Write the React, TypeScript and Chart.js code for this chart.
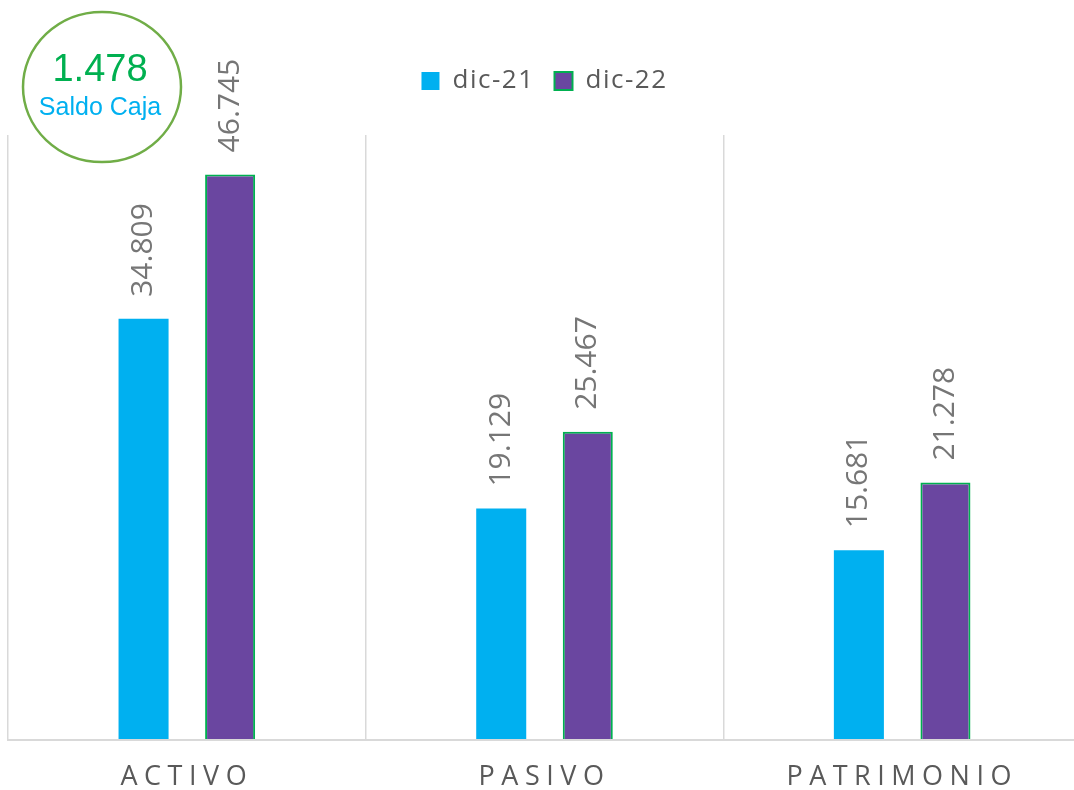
import { useEffect, useRef } from 'react';
import { Chart, registerables } from 'chart.js';

Chart.register(...registerables);

const categories = ['ACTIVO', 'PASIVO', 'PATRIMONIO'];
const seriesLabels = ['dic-21', 'dic-22'];
const dic21Values = [34809, 19129, 15681];
const dic22Values = [46745, 25467, 21278];
const saldoCajaValue = 1478;
const saldoCajaLabel = 'Saldo Caja';

const fmt = (v: number) => String(v).replace(/\B(?=(\d{3})+(?!\d))/g, '.');

const FONT = "'Open Sans', sans-serif";

const decorPlugin = {
  id: 'decor',
  beforeLayout(chart: any) {
    chart.ctx.letterSpacing = '1.5px';
  },
  beforeDraw(chart: any) {
    chart.ctx.letterSpacing = '1.5px';
  },
  afterDatasetsDraw(chart: any) {
    const ctx = chart.ctx;
    ctx.save();
    ctx.letterSpacing = '0px';
    ctx.fillStyle = '#767676';
    ctx.font = `400 30px ${FONT}`;
    ctx.textAlign = 'left';
    ctx.textBaseline = 'middle';
    chart.data.datasets.forEach((ds: any, di: number) => {
      const meta = chart.getDatasetMeta(di);
      meta.data.forEach((el: any, i: number) => {
        ctx.save();
        ctx.translate(el.x, el.y - 22);
        ctx.rotate(-Math.PI / 2);
        ctx.fillText(fmt(ds.data[i]), 0, 0);
        ctx.restore();
      });
    });
    ctx.restore();
    ctx.letterSpacing = '6.5px';
  },
  afterDraw(chart: any) {
    const ctx = chart.ctx;
    ctx.save();
    ctx.letterSpacing = '0px';
    ctx.beginPath();
    ctx.ellipse(102, 87, 79, 75, 0, 0, Math.PI * 2);
    ctx.strokeStyle = '#70AD47';
    ctx.lineWidth = 2.5;
    ctx.stroke();
    ctx.textAlign = 'center';
    ctx.textBaseline = 'alphabetic';
    ctx.fillStyle = '#00B050';
    ctx.font = "38px 'Liberation Sans', Arial, sans-serif";
    ctx.fillText(fmt(saldoCajaValue), 100, 81);
    ctx.fillStyle = '#00B0F0';
    ctx.font = "25px 'Liberation Sans', Arial, sans-serif";
    ctx.fillText(saldoCajaLabel, 100, 115);
    ctx.restore();
  },
};

export default function App() {
  const ref = useRef<HTMLCanvasElement | null>(null);

  useEffect(() => {
    if (!ref.current) return;
    const chart = new Chart(ref.current, {
      type: 'bar',
      data: {
        labels: categories,
        datasets: [
          {
            label: seriesLabels[0],
            data: dic21Values,
            backgroundColor: '#00B0F0',
            borderWidth: 0,
            categoryPercentage: 0.484,
            barPercentage: 0.578,
          },
          {
            label: seriesLabels[1],
            data: dic22Values,
            backgroundColor: '#6A46A0',
            borderColor: '#00B050',
            borderWidth: 2,
            borderSkipped: 'bottom',
            categoryPercentage: 0.484,
            barPercentage: 0.578,
          },
        ],
      },
      options: {
        responsive: false,
        animation: false,
        layout: { padding: { top: 48, left: 8, right: 1, bottom: -24 } },
        plugins: {
          tooltip: { enabled: false },
          title: { display: false },
          subtitle: {
            display: true,
            text: '',
            weight: 500,
            font: { size: 10, lineHeight: 1 },
            padding: { top: 0, bottom: 21 },
          } as any,
          legend: {
            display: true,
            position: 'top',
            labels: {
              boxWidth: 18,
              boxHeight: 18,
              padding: 20,
              color: '#595959',
              font: { family: FONT, size: 26 },
            },
          },
        },
        scales: {
          x: {
            grid: {
              display: true,
              color: '#d9d9d9',
              lineWidth: 1.5,
              drawTicks: false,
              offset: true,
            },
            border: { display: true, color: '#d9d9d9', width: 2, z: 1 } as any,
            ticks: {
              color: '#595959',
              font: { family: FONT, size: 27, lineHeight: 1 },
              padding: 23.5,
              z: 1,
            },
          },
          y: {
            display: false,
            min: 0,
            max: 50000,
          },
        },
      },
      plugins: [decorPlugin],
    });
    return () => chart.destroy();
  }, []);

  return (
    <div style={{ position: 'fixed', top: 0, left: 0, width: 1074, height: 790, overflow: 'hidden', background: '#fff' }}>
      <canvas ref={ref} width={1082} height={790} style={{ display: 'block' }} />
    </div>
  );
}
